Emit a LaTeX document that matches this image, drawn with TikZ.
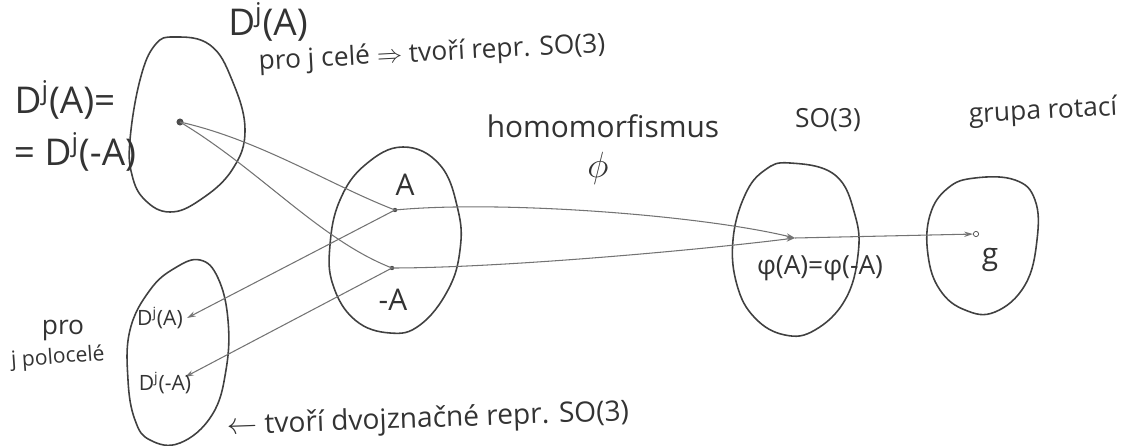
\documentclass[tikz,border=0pt]{standalone}
\usepackage{fontspec}
\setmainfont{Open Sans}
\usetikzlibrary{arrows.meta}
\begin{document}
\begin{tikzpicture}[x=0.02cm,y=-0.02cm,
  blob/.style={draw=black!75, line width=0.9pt},
  link/.style={draw=black!55, line width=0.6pt},
  tip/.style={-{Stealth[length=5pt,width=3pt]}},
  lbl/.style={text=black!80, inner sep=0pt, font=\fontsize{15}{17}\selectfont},
  big/.style={lbl, font=\fontsize{21}{24}\selectfont},
  mid/.style={lbl, font=\fontsize{17}{20}\selectfont},
  small/.style={lbl, font=\fontsize{12}{14}\selectfont},
  dotp/.style={circle, fill=black!70, inner sep=0pt, minimum size=4pt}]
\useasboundingbox (0,0) rectangle (1137,446);
% blobs
\draw[blob] plot[smooth cycle, tension=0.7] coordinates {(175,37) (210,45) (232,80) (245,130) (232,170) (200,200) (170,212) (145,200) (132,175) (130,140) (140,80) (155,45)};
\draw[blob] plot[smooth cycle, tension=0.7] coordinates {(200,260) (218,278) (228,320) (226,370) (212,415) (180,443) (150,440) (135,420) (128,380) (130,330) (150,290) (175,268)};
\draw[blob] plot[smooth cycle, tension=0.7] coordinates {(403,147) (440,165) (458,210) (460,250) (448,290) (420,325) (390,333) (355,320) (333,285) (330,245) (340,200) (365,165)};
\draw[blob] plot[smooth cycle, tension=0.7] coordinates {(790,163) (835,175) (855,215) (858,255) (845,300) (815,330) (785,335) (755,318) (737,285) (733,240) (745,195) (765,170)};
\draw[blob] plot[smooth cycle, tension=0.7] coordinates {(975,178) (1015,180) (1035,200) (1037,240) (1025,285) (995,312) (965,310) (940,290) (928,255) (930,215) (948,188)};
% points
\coordinate (P0) at (180,122);
\coordinate (PA) at (395,210);
\coordinate (PmA) at (392,268);
\coordinate (Pphi) at (795,238);
\coordinate (Pg) at (976,234);
\coordinate (T1) at (187,318);
\coordinate (T2) at (185,377);
\node[dotp] at (P0) {};
\node[dotp, minimum size=2.5pt] at (PA) {};
\node[dotp, minimum size=2.5pt] at (PmA) {};
\node[circle, draw=black!70, inner sep=0pt, minimum size=3pt] (G) at (Pg) {};
% connectors
\draw[link] (P0) .. controls (260,140) and (330,185) .. (PA);
\draw[link] (P0) .. controls (260,170) and (320,240) .. (PmA);
\draw[link,tip] (PA) -- (T1);
\draw[link,tip] (PmA) -- (T2);
\draw[link,tip] (PA) .. controls (500,200) and (700,215) .. (Pphi);
\draw[link,tip] (PmA) .. controls (500,268) and (700,250) .. (Pphi);
\draw[link,tip] (Pphi) -- (G);
% labels
\node[big] (t1) at (268,22) {D\textsuperscript{j}(A)};
\node[lbl, rotate=3] (t2) at (432,54) {pro j celé $\Rightarrow$ tvoří repr. SO(3)};
\node[big] (t3) at (65,100) {D\textsuperscript{j}(A)=};
\node[big] (t4) at (75,152) {= D\textsuperscript{j}(-A)};
\node[mid] (la) at (405,185) {A};
\node[mid] (lma) at (393,300) {-A};
\node[mid] (hom) at (603,126) {homomorfismus};
\node[big] (phi) at (598,168) {$\phi$};
\node[lbl] (so3) at (828,120) {SO(3)};
\node[lbl, rotate=3] (gr) at (1043,112) {grupa rotací};
\node[lbl] (pp) at (820,268) {φ(A)=φ(-A)};
\node[mid] (g) at (990,260) {g};
\node[lbl] (pro) at (63,330) {pro};
\node[small, rotate=4] (pol) at (58,358) {j polocelé};
\node[small] (d1) at (160,318) {D\textsuperscript{j}(A)};
\node[small] (d2) at (165,383) {D\textsuperscript{j}(-A)};
\node[lbl, font=\fontsize{16}{18}\selectfont, rotate=2] (bot) at (428,420) {$\leftarrow$ tvoří dvojznačné repr. SO(3)};
\end{tikzpicture}
\end{document}
